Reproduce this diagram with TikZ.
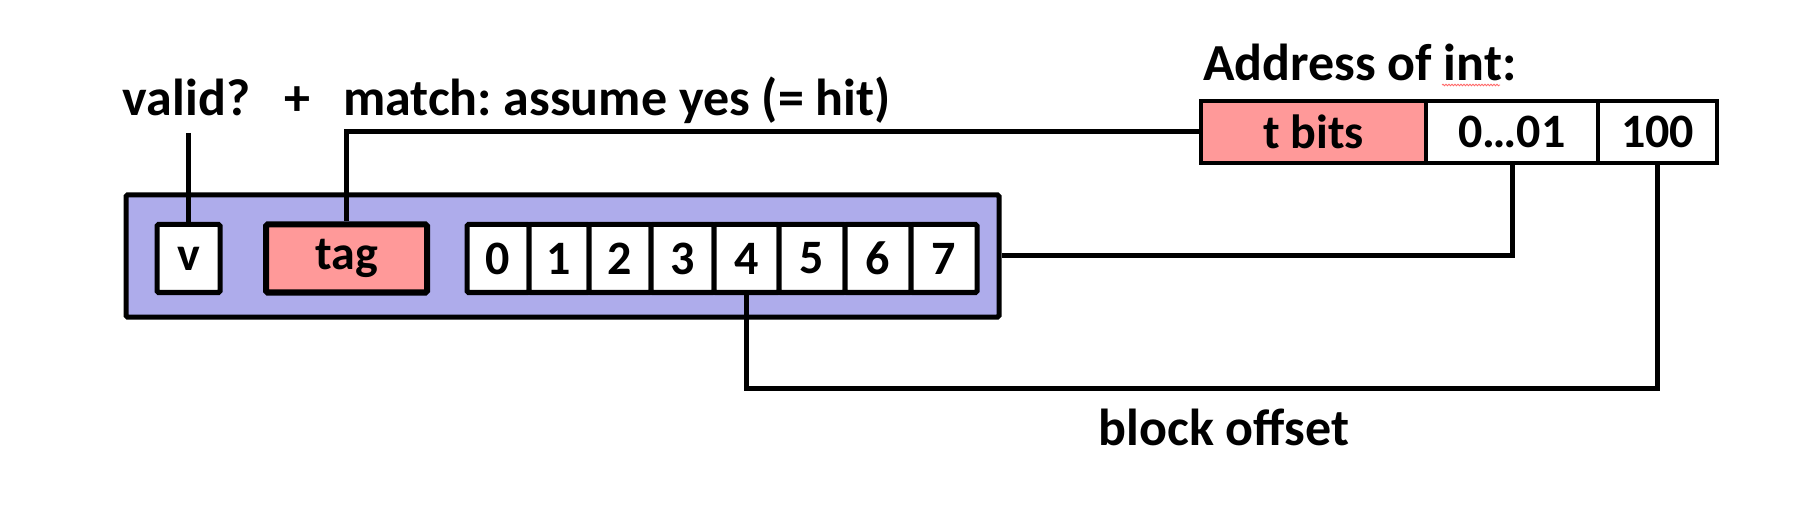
\documentclass[tikz,border=0pt]{standalone}
\usepackage{fontspec}
\setmainfont{Carlito}
\usetikzlibrary{decorations.pathmorphing}
\definecolor{lineblue}{RGB}{174,172,235}
\definecolor{tagpink}{RGB}{255,153,153}
\frenchspacing
\begin{document}
\begin{tikzpicture}[x=1pt,y=-1pt,
  lbl/.style={font=\bfseries\fontsize{52}{60}\selectfont, inner sep=0pt, anchor=base},
  cellbox/.style={draw, line width=5pt, fill=white, rounded corners=1.5pt, minimum height=68pt, inner sep=0pt, font=\bfseries\fontsize{48}{54}\selectfont},
  addrbox/.style={draw, line width=3.5pt, minimum height=62pt, inner sep=0pt, font=\bfseries\fontsize{48}{54}\selectfont},
  conn/.style={line width=5pt}]
\useasboundingbox (0,0) rectangle (1800,505);
% labels
\node[lbl] (valid) at (186.5,116) {valid?};
\node[lbl] (plus) at (297,116) {+};
\node[lbl, anchor=base west] (match) at (343,116) {match: assume yes (= hit)};
\node[lbl, anchor=base west] (addr) at (1203,81) {Address of int:};
\node[lbl] (boff) at (1224,445) {block offset};
% cache line
\node[draw, line width=5pt, fill=lineblue, rounded corners=1.5pt, minimum width=873pt, minimum height=122pt, inner sep=0pt] (blue) at (562.5,256) {};
\node[cellbox, minimum width=63pt] (v) at (188.5,258.5) {v};
\node[cellbox, fill=tagpink, line width=6pt, minimum width=161pt] (tag) at (346.5,258.5) {tag};
\foreach \i/\l/\r in {0/467/529, 1/529/589, 2/589/651, 3/651/714, 4/714/779, 5/779/845, 6/845/911, 7/911/977} {
  \node[cellbox, minimum width={(\r-\l)*1pt}] (c\i) at ({(\l+\r)/2},258.5) {\i};
}
% address
\node[addrbox, fill=tagpink, minimum width=225pt] (tbits) at (1313.5,132) {t bits};
\node[addrbox, fill=white, minimum width=172pt] (z01) at (1512,132) {0\ldots01};
\node[addrbox, fill=white, minimum width=119pt] (h100) at (1657.5,132) {100};
% spell-check squiggle
\coordinate (sq1) at (1442,85);
\coordinate (sq2) at (1500,85);
\draw[red!60, line width=0.8pt, decorate, decoration={snake, amplitude=0.8pt, segment length=3pt}] (sq1) -- (sq2);
% connectors
\coordinate (vtop) at (188.5,133);
\draw[conn] (vtop) -- (v.north);
\draw[conn] (tbits.west) -| (tag.north);
\draw[conn] (blue.east) -| (z01.south);
\draw[conn] (c4.south) -- (c4.south |- 0,388) -| (h100.south);
\end{tikzpicture}
\end{document}
